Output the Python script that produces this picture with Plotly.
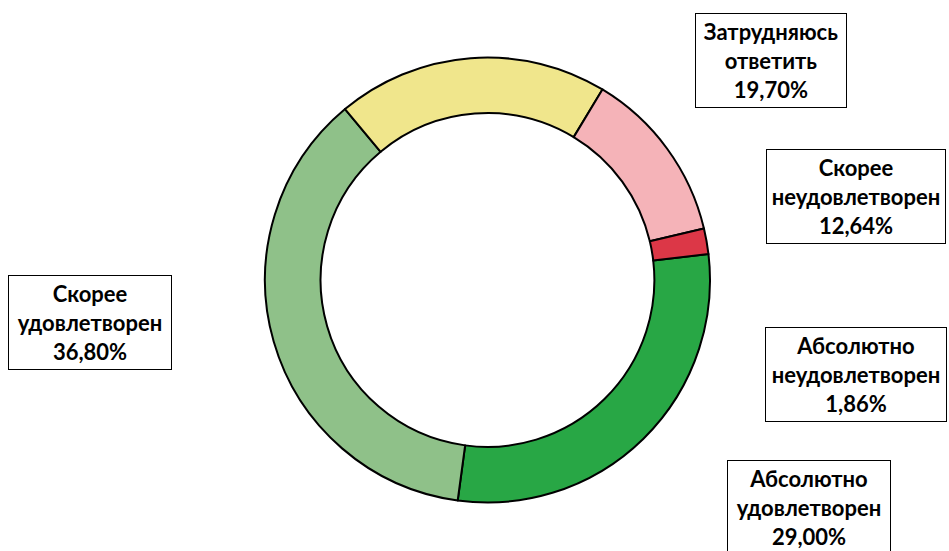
import plotly.graph_objects as go

# Data (order as drawn clockwise, starting with "Абсолютно удовлетворен")
labels = ["Абсолютно удовлетворен", "Скорее удовлетворен", "Затрудняюсь ответить",
          "Скорее неудовлетворен", "Абсолютно неудовлетворен"]
label_lines = [["Абсолютно", "удовлетворен"], ["Скорее", "удовлетворен"],
               ["Затрудняюсь", "ответить"], ["Скорее", "неудовлетворен"],
               ["Абсолютно", "неудовлетворен"]]
values = [29.00, 36.80, 19.70, 12.64, 1.86]
colors = ["#28A745", "#8FC189", "#F0E68C", "#F5B3B8", "#DC3747"]

W, H = 949, 551

# Label box geometry in pixels: (center x, center y, width, height)
boxes = [(808.5, 507.5, 164, 95), (90, 322.5, 164, 95), (771, 60, 152, 95),
         (856, 196.5, 180, 95), (855.5, 374.5, 182, 95)]

fig = go.Figure()
fig.add_trace(go.Pie(
    labels=labels, values=values, sort=False, direction="clockwise",
    rotation=83.3, hole=0.75, textinfo="none", hoverinfo="label+percent",
    marker=dict(colors=colors, line=dict(color="black", width=2)),
    domain=dict(x=[265 / W, 710 / W], y=[(H - 502.5) / H, (H - 57.5) / H]),
    showlegend=False,
))

for lines, v, (cx, cy, bw, bh) in zip(label_lines, values, boxes):
    txt = "<br>".join(lines + [f"{v:.2f}".replace(".", ",") + "%"])
    fig.add_annotation(
        text=f"<b>{txt}</b>", xref="paper", yref="paper",
        x=cx / W, y=1 - cy / H, xanchor="center", yanchor="middle",
        showarrow=False, width=bw - 2, height=bh - 2, borderpad=0,
        bordercolor="black", borderwidth=1, bgcolor="white", align="center",
        valign="middle",
        font=dict(family="Lato, Roboto, sans-serif", size=22, color="black"),
    )

fig.update_layout(width=W, height=H, margin=dict(l=0, r=0, t=0, b=0),
                  paper_bgcolor="white", plot_bgcolor="white")
fig.write_html("out.html", config={"displayModeBar": False},
               post_script="document.body.style.margin='0';"
                           "document.body.style.overflow='hidden';")
